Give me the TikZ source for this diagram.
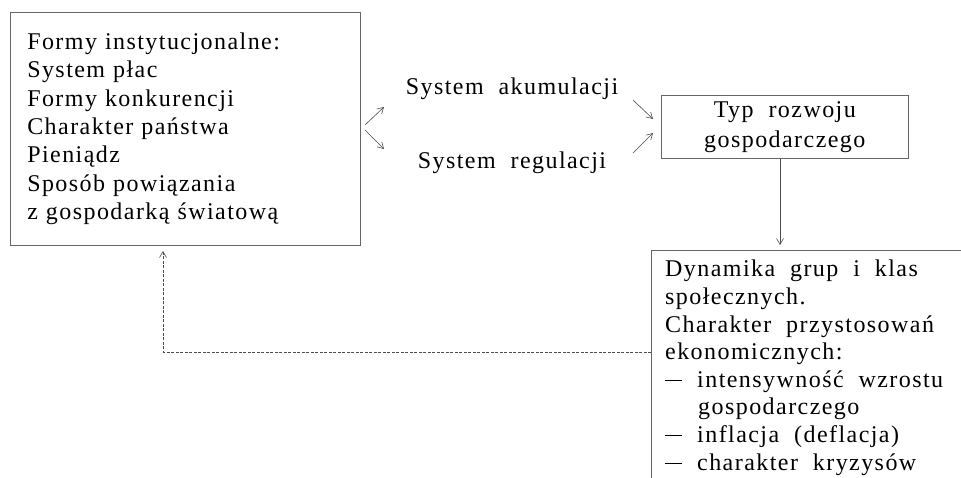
\documentclass[tikz,border=0pt]{standalone}
\usepackage{fontspec}
\setmainfont{Liberation Serif}[WordSpace=2.0, LetterSpace=6]
\usetikzlibrary{arrows.meta}
\newcommand{\dashmark}{\rule[0.26em]{17pt}{0.9pt}\hspace{15pt}}
\begin{document}
\begin{tikzpicture}[x=1pt,y=-1pt,
  frame/.style={draw=black!60, line width=0.6pt},
  conn/.style={draw=black!70, line width=0.6pt, -{Straight Barb[length=6pt,width=7pt]}},
  txt/.style={inner sep=0pt, font=\fontsize{24}{28.7}\selectfont}
]
\useasboundingbox (0,0) rectangle (961,478);
\node[frame, anchor=north west, minimum width=350pt, minimum height=233pt,
      text width=316pt, inner xsep=17pt, inner ysep=0pt, align=left,
      font=\fontsize{24}{28.4}\selectfont] (inst) at (10,12)
  {Formy instytucjonalne:\\System płac\\Formy konkurencji\\Charakter państwa\\Pieniądz\\Sposób powiązania\\z gospodarką światową};
\node[txt] (akum) at (512,89) {System akumulacji};
\node[txt] (regul) at (512,163) {System regulacji};
\node[frame, anchor=north west, minimum width=247pt, minimum height=63pt,
      inner sep=0pt, align=center, font=\fontsize{24}{30}\selectfont] (typ) at (661,95)
  {Typ rozwoju\\gospodarczego};
% bottom-right box (runs past the page edge)
\coordinate (dynTL) at (651,250);
\coordinate (dynTR) at (961,250);
\coordinate (dynBL) at (651,478);
\draw[frame] (dynTR) -- (dynTL) -- (dynBL);
\node[txt, anchor=north west, align=left, font=\fontsize{24}{27.6}\selectfont] (dyn) at (665,260)
  {Dynamika grup i klas\\społecznych.\\Charakter przystosowań\\ekonomicznych:\\\dashmark intensywność wzrostu\\\hspace*{33pt}gospodarczego\\\dashmark inflacja (deflacja)\\\dashmark charakter kryzysów};
% small arrows
\coordinate (a1s) at (365,125); \coordinate (a1e) at (384,107);
\coordinate (a2s) at (365,130); \coordinate (a2e) at (384,149);
\coordinate (a3s) at (633,100); \coordinate (a3e) at (653,119);
\coordinate (a4s) at (633,153); \coordinate (a4e) at (653,133);
\draw[conn] (a1s) -- (a1e);
\draw[conn] (a2s) -- (a2e);
\draw[conn] (a3s) -- (a3e);
\draw[conn] (a4s) -- (a4e);
% down arrow
\coordinate (dnS) at (780,159);
\coordinate (dnE) at (780,245);
\draw[conn] (dnS) -- (dnE);
% feedback
\coordinate (fbS) at (651,352);
\coordinate (fbC) at (163,352);
\coordinate (fbE) at (163,251);
\draw[conn, dashed, dash pattern=on 3pt off 1.5pt] (fbS) -- (fbC) -- (fbE);
\end{tikzpicture}
\end{document}
